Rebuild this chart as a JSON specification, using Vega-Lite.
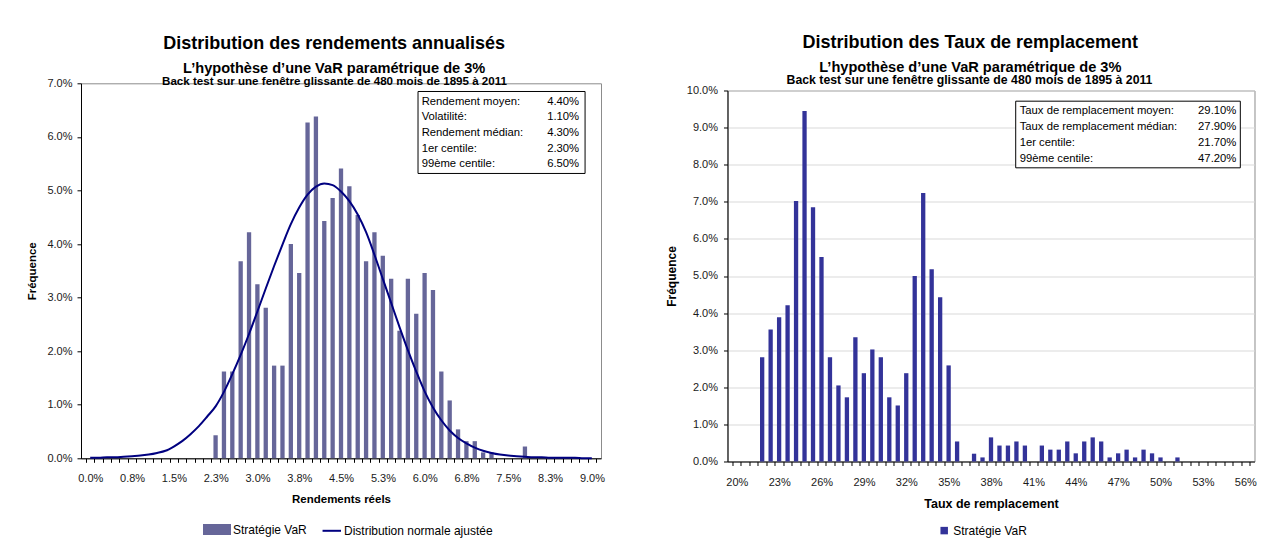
{
  "$schema": "https://vega.github.io/schema/vega-lite/v6.json",
  "background": "white",
  "padding": {"left": 26, "top": 33.3, "right": 0, "bottom": 0},
  "columns": 2,
  "align": "none",
  "spacing": 59.5,
  "config": {
    "font": "Liberation Sans",
    "view": {"stroke": "#8c8c8c", "strokeWidth": 1},
    "axis": {
      "labelFont": "Liberation Sans", "labelFontSize": 11, "labelColor": "#1a1a1a",
      "titleFont": "Liberation Sans", "titleFontWeight": "bold", "titleColor": "#000000",
      "domainColor": "#000000", "tickColor": "#000000", "tickSize": 4, "grid": false
    },
    "title": {"font": "Liberation Sans", "color": "#000000", "subtitleFont": "Liberation Sans", "subtitleColor": "#000000", "subtitleFontWeight": "bold"}
  },
  "resolve": {"scale": {"color": "independent"}, "legend": {"color": "independent"}},
  "datasets": {
    "rendements": [
      {"rendement": 2.25, "frequence": 0.43}, {"rendement": 2.4, "frequence": 1.62}, {"rendement": 2.55, "frequence": 1.62},
      {"rendement": 2.7, "frequence": 3.68}, {"rendement": 2.85, "frequence": 4.22}, {"rendement": 3.0, "frequence": 3.25},
      {"rendement": 3.15, "frequence": 2.81}, {"rendement": 3.3, "frequence": 1.73}, {"rendement": 3.45, "frequence": 1.73},
      {"rendement": 3.6, "frequence": 4.0}, {"rendement": 3.75, "frequence": 3.46}, {"rendement": 3.9, "frequence": 6.27},
      {"rendement": 4.05, "frequence": 6.38}, {"rendement": 4.2, "frequence": 4.43}, {"rendement": 4.35, "frequence": 4.86},
      {"rendement": 4.5, "frequence": 5.41}, {"rendement": 4.65, "frequence": 5.08}, {"rendement": 4.8, "frequence": 4.54},
      {"rendement": 4.95, "frequence": 3.68}, {"rendement": 5.1, "frequence": 4.22}, {"rendement": 5.25, "frequence": 3.78},
      {"rendement": 5.4, "frequence": 3.35}, {"rendement": 5.55, "frequence": 2.38}, {"rendement": 5.7, "frequence": 3.35},
      {"rendement": 5.85, "frequence": 2.7}, {"rendement": 6.0, "frequence": 3.46}, {"rendement": 6.15, "frequence": 3.14},
      {"rendement": 6.3, "frequence": 1.62}, {"rendement": 6.45, "frequence": 1.08}, {"rendement": 6.6, "frequence": 0.54},
      {"rendement": 6.75, "frequence": 0.32}, {"rendement": 6.9, "frequence": 0.32}, {"rendement": 7.05, "frequence": 0.11},
      {"rendement": 7.2, "frequence": 0.11}, {"rendement": 7.8, "frequence": 0.22}
    ],
    "normale": [
      {"rendement": 0.0, "frequence": 0.01}, {"rendement": 0.15, "frequence": 0.01}, {"rendement": 0.3, "frequence": 0.02},
      {"rendement": 0.45, "frequence": 0.02}, {"rendement": 0.6, "frequence": 0.03}, {"rendement": 0.75, "frequence": 0.04},
      {"rendement": 0.9, "frequence": 0.05}, {"rendement": 1.05, "frequence": 0.07}, {"rendement": 1.2, "frequence": 0.1},
      {"rendement": 1.35, "frequence": 0.14}, {"rendement": 1.5, "frequence": 0.22}, {"rendement": 1.65, "frequence": 0.32},
      {"rendement": 1.8, "frequence": 0.45}, {"rendement": 1.95, "frequence": 0.6}, {"rendement": 2.1, "frequence": 0.78},
      {"rendement": 2.25, "frequence": 0.97}, {"rendement": 2.4, "frequence": 1.24}, {"rendement": 2.55, "frequence": 1.57},
      {"rendement": 2.7, "frequence": 1.93}, {"rendement": 2.85, "frequence": 2.32}, {"rendement": 3.0, "frequence": 2.74},
      {"rendement": 3.15, "frequence": 3.17}, {"rendement": 3.3, "frequence": 3.59}, {"rendement": 3.45, "frequence": 3.99},
      {"rendement": 3.6, "frequence": 4.37}, {"rendement": 3.75, "frequence": 4.68}, {"rendement": 3.9, "frequence": 4.92},
      {"rendement": 4.05, "frequence": 5.07}, {"rendement": 4.2, "frequence": 5.13}, {"rendement": 4.35, "frequence": 5.1},
      {"rendement": 4.5, "frequence": 4.98}, {"rendement": 4.65, "frequence": 4.8}, {"rendement": 4.8, "frequence": 4.55},
      {"rendement": 4.95, "frequence": 4.22}, {"rendement": 5.1, "frequence": 3.8}, {"rendement": 5.25, "frequence": 3.35},
      {"rendement": 5.4, "frequence": 2.9}, {"rendement": 5.55, "frequence": 2.45}, {"rendement": 5.7, "frequence": 2.02},
      {"rendement": 5.85, "frequence": 1.62}, {"rendement": 6.0, "frequence": 1.25}, {"rendement": 6.15, "frequence": 0.95},
      {"rendement": 6.3, "frequence": 0.71}, {"rendement": 6.45, "frequence": 0.52}, {"rendement": 6.6, "frequence": 0.38},
      {"rendement": 6.75, "frequence": 0.28}, {"rendement": 6.9, "frequence": 0.2}, {"rendement": 7.05, "frequence": 0.14},
      {"rendement": 7.2, "frequence": 0.1}, {"rendement": 7.35, "frequence": 0.07}, {"rendement": 7.5, "frequence": 0.05},
      {"rendement": 7.65, "frequence": 0.04}, {"rendement": 7.8, "frequence": 0.03}, {"rendement": 7.95, "frequence": 0.02},
      {"rendement": 8.1, "frequence": 0.02}, {"rendement": 8.25, "frequence": 0.01}, {"rendement": 8.4, "frequence": 0.01},
      {"rendement": 8.55, "frequence": 0.01}, {"rendement": 8.7, "frequence": 0.01}, {"rendement": 8.85, "frequence": 0.0},
      {"rendement": 9.0, "frequence": 0.0}
    ],
    "stats_rendements": [
      {"libelles": ["Rendement moyen:", "Volatilité:", "Rendement médian:", "1er centile:", "99ème centile:"],
       "valeurs": ["4.40%", "1.10%", "4.30%", "2.30%", "6.50%"]}
    ],
    "taux": [
      {"taux": 21.8, "frequence": 2.81}, {"taux": 22.4, "frequence": 3.56}, {"taux": 23.0, "frequence": 3.89},
      {"taux": 23.6, "frequence": 4.21}, {"taux": 24.2, "frequence": 7.02}, {"taux": 24.8, "frequence": 9.45},
      {"taux": 25.4, "frequence": 6.85}, {"taux": 26.0, "frequence": 5.51}, {"taux": 26.6, "frequence": 2.81},
      {"taux": 27.2, "frequence": 2.05}, {"taux": 27.8, "frequence": 1.73}, {"taux": 28.4, "frequence": 3.35},
      {"taux": 29.0, "frequence": 2.38}, {"taux": 29.6, "frequence": 3.02}, {"taux": 30.2, "frequence": 2.81},
      {"taux": 30.8, "frequence": 1.73}, {"taux": 31.4, "frequence": 1.51}, {"taux": 32.0, "frequence": 2.38},
      {"taux": 32.6, "frequence": 5.0}, {"taux": 33.2, "frequence": 7.24}, {"taux": 33.8, "frequence": 5.18},
      {"taux": 34.4, "frequence": 4.43}, {"taux": 35.0, "frequence": 2.59}, {"taux": 35.6, "frequence": 0.54},
      {"taux": 36.8, "frequence": 0.21}, {"taux": 37.4, "frequence": 0.11}, {"taux": 38.0, "frequence": 0.65},
      {"taux": 38.6, "frequence": 0.43}, {"taux": 39.2, "frequence": 0.43}, {"taux": 39.8, "frequence": 0.54},
      {"taux": 40.4, "frequence": 0.43}, {"taux": 41.6, "frequence": 0.43}, {"taux": 42.2, "frequence": 0.32},
      {"taux": 42.8, "frequence": 0.32}, {"taux": 43.4, "frequence": 0.54}, {"taux": 44.0, "frequence": 0.22},
      {"taux": 44.6, "frequence": 0.54}, {"taux": 45.2, "frequence": 0.65}, {"taux": 45.8, "frequence": 0.54},
      {"taux": 46.4, "frequence": 0.11}, {"taux": 47.0, "frequence": 0.22}, {"taux": 47.6, "frequence": 0.32},
      {"taux": 48.2, "frequence": 0.11}, {"taux": 48.8, "frequence": 0.32}, {"taux": 49.4, "frequence": 0.22},
      {"taux": 50.0, "frequence": 0.11}, {"taux": 51.2, "frequence": 0.11}
    ],
    "stats_taux": [
      {"libelles": ["Taux de remplacement moyen:", "Taux de remplacement médian:", "1er centile:", "99ème centile:"],
       "valeurs": ["29.10%", "27.90%", "21.70%", "47.20%"]}
    ]
  },
  "concat": [
    {
      "title": {"text": "Distribution des rendements annualisés", "subtitle": "L’hypothèse d’une VaR paramétrique de 3%", "fontSize": 18, "fontWeight": "bold", "subtitleFontSize": 14.6, "subtitlePadding": 8, "anchor": "middle", "frame": "bounds", "dx": 18.5, "offset": 0},
      "vconcat": [
        {
          "title": {"text": "Back test sur une fenêtre glissante de 480 mois de 1895 à 2011", "fontSize": 11.6, "fontWeight": "bold", "anchor": "middle", "frame": "group", "dx": -6.5, "offset": -10},
          "width": 520,
          "height": 375,
          "layer": [
            {
              "data": {"name": "rendements"},
              "mark": {"type": "bar", "size": 4.3},
              "encoding": {
                "x": {
                  "field": "rendement", "type": "quantitative",
                  "scale": {"domain": [-0.075, 9.075], "nice": false, "zero": false},
                  "axis": {
                    "title": "Rendements réels", "titleFontSize": 11.5, "titlePadding": 10,
                    "values": [-0.075, 0.075, 0.225, 0.375, 0.525, 0.675, 0.825, 0.975, 1.125, 1.275, 1.425, 1.575, 1.725, 1.875, 2.025, 2.175, 2.325, 2.475, 2.625, 2.775, 2.925, 3.075, 3.225, 3.375, 3.525, 3.675, 3.825, 3.975, 4.125, 4.275, 4.425, 4.575, 4.725, 4.875, 5.025, 5.175, 5.325, 5.475, 5.625, 5.775, 5.925, 6.075, 6.225, 6.375, 6.525, 6.675, 6.825, 6.975, 7.125, 7.275, 7.425, 7.575, 7.725, 7.875, 8.025, 8.175, 8.325, 8.475, 8.625, 8.775, 8.925, 9.075],
                    "tickCount": 100,
                    "labelExpr": "(round((datum.value + 0.075) / 0.15) % 5 === 0 && round((datum.value + 0.075) / 0.15) <= 60) ? ['0.0%','0.8%','1.5%','2.3%','3.0%','3.8%','4.5%','5.3%','6.0%','6.8%','7.5%','8.3%','9.0%'][round((datum.value + 0.075) / 0.15) / 5] : ''",
                    "labelOffset": 4.27, "labelFlush": false, "labelOverlap": false, "labelBound": false, "labelPadding": 10
                  }
                },
                "y": {
                  "field": "frequence", "type": "quantitative",
                  "scale": {"domain": [0, 7], "nice": false},
                  "axis": {"title": "Fréquence", "titleFontSize": 11.5, "titlePadding": 9, "values": [0, 1, 2, 3, 4, 5, 6, 7], "tickCount": 20, "labelOverlap": false, "labelExpr": "format(datum.value, '.1f') + '%'", "labelPadding": 5}
                },
                "color": {
                  "datum": "Stratégie VaR",
                  "scale": {"domain": ["Stratégie VaR", "Distribution normale ajustée"], "range": ["#666699", "#000080"]},
                  "legend": {
                    "orient": "none", "legendX": 122, "legendY": 432, "direction": "horizontal", "title": null,
                    "symbolSize": 676, "labelFont": "Liberation Sans", "labelFontSize": 12, "labelColor": "#000000",
                    "labelOffset": 2, "columnPadding": 7, "padding": 0,
                    "encode": {
                      "symbols": {
                        "update": {
                          "shape": {"signal": "datum.value === 'Stratégie VaR' ? 'M-1,-0.35H1V0.35H-1Z' : 'M-0.42,0H1'"},
                          "fill": {"signal": "datum.value === 'Stratégie VaR' ? '#666699' : 'transparent'"},
                          "stroke": {"signal": "datum.value === 'Stratégie VaR' ? 'transparent' : '#000080'"},
                          "strokeWidth": {"value": 2},
                          "opacity": {"value": 1}
                        }
                      }
                    }
                  }
                }
              }
            },
            {
              "data": {"name": "normale"},
              "mark": {"type": "line", "strokeWidth": 2, "interpolate": "monotone"},
              "encoding": {
                "x": {"field": "rendement", "type": "quantitative"},
                "y": {"field": "frequence", "type": "quantitative"},
                "color": {"datum": "Distribution normale ajustée"}
              }
            },
            {
              "data": {"name": "stats_rendements"},
              "mark": {"type": "rect", "fill": "white", "stroke": "black", "strokeWidth": 1},
              "encoding": {
                "x": {"datum": 5.882}, "x2": {"datum": 8.879},
                "y": {"datum": 6.847}, "y2": {"datum": 5.317}
              }
            },
            {
              "data": {"name": "stats_rendements"},
              "mark": {"type": "text", "align": "left", "baseline": "middle", "font": "Liberation Sans", "fontSize": 11.3, "lineHeight": 15.6, "color": "#000000"},
              "encoding": {
                "x": {"datum": 5.947}, "y": {"datum": 6.653},
                "text": {"field": "libelles", "type": "nominal"}
              }
            },
            {
              "data": {"name": "stats_rendements"},
              "mark": {"type": "text", "align": "right", "baseline": "middle", "font": "Liberation Sans", "fontSize": 11.3, "lineHeight": 15.6, "color": "#000000"},
              "encoding": {
                "x": {"datum": 8.773}, "y": {"datum": 6.653},
                "text": {"field": "valeurs", "type": "nominal"}
              }
            }
          ]
        }
      ]
    },
    {
      "title": {"text": "Distribution des Taux de remplacement", "subtitle": "L’hypothèse d’une VaR paramétrique de 3%", "fontSize": 18, "fontWeight": "bold", "subtitleFontSize": 14.6, "subtitlePadding": 8, "anchor": "middle", "frame": "bounds", "dx": 9.5, "offset": 0},
      "spacing": -5.8,
      "vconcat": [
        {
          "title": {"text": "Back test sur une fenêtre glissante de 480 mois de 1895 à 2011", "fontSize": 12.3, "fontWeight": "bold", "anchor": "middle", "frame": "group", "dx": -21.5, "offset": -9},
          "width": 527,
          "height": 1,
          "view": {"stroke": null},
          "data": {"values": [{}]},
          "mark": {"type": "text", "text": ""}
        },
        {
          "width": 527,
          "height": 371,
          "layer": [
            {
              "data": {"name": "taux"},
              "mark": {"type": "bar", "size": 4.3},
              "encoding": {
                "x": {
                  "field": "taux", "type": "quantitative",
                  "scale": {"domain": [19.7, 56.3], "nice": false, "zero": false},
                  "axis": {
                    "title": "Taux de remplacement", "titleFontSize": 12.5, "titlePadding": 10,
                    "values": [19.7, 20.3, 20.9, 21.5, 22.1, 22.7, 23.3, 23.9, 24.5, 25.1, 25.7, 26.3, 26.9, 27.5, 28.1, 28.7, 29.3, 29.9, 30.5, 31.1, 31.7, 32.3, 32.9, 33.5, 34.1, 34.7, 35.3, 35.9, 36.5, 37.1, 37.7, 38.3, 38.9, 39.5, 40.1, 40.7, 41.3, 41.9, 42.5, 43.1, 43.7, 44.3, 44.9, 45.5, 46.1, 46.7, 47.3, 47.9, 48.5, 49.1, 49.7, 50.3, 50.9, 51.5, 52.1, 52.7, 53.3, 53.9, 54.5, 55.1, 55.7, 56.3],
                    "tickCount": 100,
                    "labelExpr": "(round((datum.value - 19.7) / 0.6) % 5 === 0 && round((datum.value - 19.7) / 0.6) <= 60) ? ['20%','23%','26%','29%','32%','35%','38%','41%','44%','47%','50%','53%','56%'][round((datum.value - 19.7) / 0.6) / 5] : ''",
                    "labelOffset": 4.32, "labelFlush": false, "labelOverlap": false, "labelBound": false, "labelPadding": 11
                  }
                },
                "y": {
                  "field": "frequence", "type": "quantitative",
                  "scale": {"domain": [0, 10], "nice": false},
                  "axis": {"title": "Fréquence", "titleFontSize": 12, "titlePadding": 8, "values": [0, 1, 2, 3, 4, 5, 6, 7, 8, 9, 10], "tickCount": 20, "labelOverlap": false, "labelExpr": "format(datum.value, '.1f') + '%'", "labelPadding": 6, "grid": true, "gridColor": "#d9d9d9"}
                },
                "color": {
                  "datum": "Stratégie VaR",
                  "scale": {"domain": ["Stratégie VaR"], "range": ["#333399"]},
                  "legend": {
                    "orient": "none", "legendX": 210.7, "legendY": 441.3, "title": null,
                    "symbolType": "square", "symbolSize": 56, "symbolStrokeWidth": 0,
                    "labelFont": "Liberation Sans", "labelFontSize": 12, "labelColor": "#000000", "labelOffset": 3, "padding": 0
                  }
                }
              }
            },
            {
              "data": {"name": "stats_taux"},
              "mark": {"type": "rect", "fill": "white", "stroke": "black", "strokeWidth": 1},
              "encoding": {
                "x": {"datum": 39.75}, "x2": {"datum": 55.65},
                "y": {"datum": 9.712}, "y2": {"datum": 7.916}
              }
            },
            {
              "data": {"name": "stats_taux"},
              "mark": {"type": "text", "align": "left", "baseline": "middle", "font": "Liberation Sans", "fontSize": 11.3, "lineHeight": 15.9, "color": "#000000"},
              "encoding": {
                "x": {"datum": 40.03}, "y": {"datum": 9.442},
                "text": {"field": "libelles", "type": "nominal"}
              }
            },
            {
              "data": {"name": "stats_taux"},
              "mark": {"type": "text", "align": "right", "baseline": "middle", "font": "Liberation Sans", "fontSize": 11.3, "lineHeight": 15.9, "color": "#000000"},
              "encoding": {
                "x": {"datum": 55.37}, "y": {"datum": 9.442},
                "text": {"field": "valeurs", "type": "nominal"}
              }
            }
          ]
        }
      ]
    }
  ]
}
